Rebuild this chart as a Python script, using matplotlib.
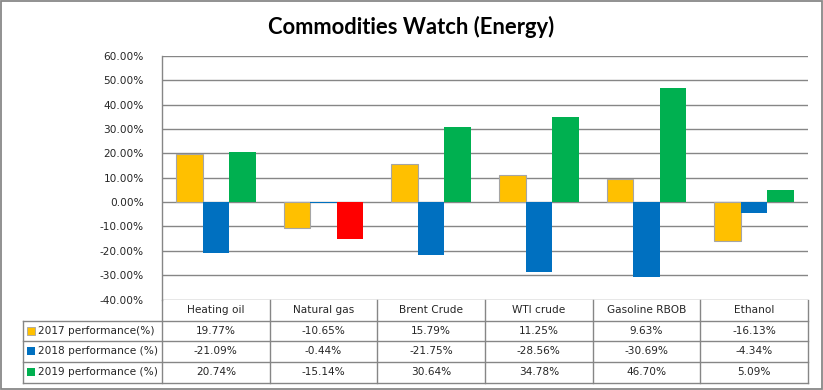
import matplotlib
matplotlib.use("Agg")
import matplotlib.pyplot as plt
import matplotlib.transforms as mtransforms
from matplotlib.lines import Line2D
from matplotlib.patches import Rectangle
import numpy as np

# data
commodities = ["Heating oil", "Natural gas", "Brent Crude", "WTI crude", "Gasoline RBOB", "Ethanol"]
series_names = ["2017 performance(%)", "2018 performance (%)", "2019 performance (%)"]
perf_2017 = [19.77, -10.65, 15.79, 11.25, 9.63, -16.13]
perf_2018 = [-21.09, -0.44, -21.75, -28.56, -30.69, -4.34]
perf_2019 = [20.74, -15.14, 30.64, 34.78, 46.70, 5.09]
y_ticks = [-40, -30, -20, -10, 0, 10, 20, 30, 40, 50, 60]

W, H = 823, 390
GRID = "#868686"
TEXT = "#262626"
FONT = "DejaVu Sans"
FS = 7.6

def fx(px):
    return px / W

def fy(py):
    return 1 - py / H

fig = plt.figure(figsize=(W / 100, H / 100), dpi=100)
fig.patch.set_facecolor("white")

# plot area
ax = fig.add_axes([fx(162), fy(299.5), fx(808) - fx(162), (299.5 - 56) / H])
x = np.arange(len(commodities))
bw = 0.247

c2019 = ["#FF0000" if v < 0 else "#00B050" for v in perf_2019]
ax.bar(x - bw, perf_2017, bw, color="#FFC000", edgecolor="#A5A5A5", linewidth=0.8, zorder=3)
ax.bar(x, perf_2018, bw, color="#0070C0", linewidth=0, zorder=3)
ax.bar(x + bw, perf_2019, bw, color=c2019, linewidth=0, zorder=3)

ax.set_xlim(-0.5, len(commodities) - 0.5)
ax.set_ylim(min(y_ticks), max(y_ticks))
ax.set_yticks(y_ticks)
ax.set_yticklabels([f"{v:.2f}%" for v in y_ticks], fontsize=FS, color=TEXT, family=FONT)
ax.set_xticks([])
ax.tick_params(axis="y", length=0, pad=13)
ax.grid(axis="y", color=GRID, linewidth=1, zorder=0)
for side in ["top", "right", "bottom"]:
    ax.spines[side].set_visible(False)
ax.spines["left"].set_color(GRID)
ax.spines["left"].set_linewidth(1)

# data table below the plot
row_edges = [299.5, 320.5, 341, 361.7, 382.5]
bt = mtransforms.blended_transform_factory(ax.transData, fig.transFigure)
x_edges = np.arange(len(commodities) + 1) - 0.5

for xe in x_edges:
    fig.add_artist(Line2D([xe, xe], [fy(row_edges[0]), fy(row_edges[-1])],
                          transform=bt, color=GRID, linewidth=1))
for ye in row_edges[1:]:
    fig.add_artist(Line2D([fx(23), fx(808)], [fy(ye), fy(ye)],
                          transform=fig.transFigure, color=GRID, linewidth=1))
fig.add_artist(Line2D([fx(23), fx(23)], [fy(row_edges[1]), fy(row_edges[-1])],
                      transform=fig.transFigure, color=GRID, linewidth=1))

head_y = fy((row_edges[0] + row_edges[1]) / 2)
for i, name in enumerate(commodities):
    fig.text(i, head_y, name, transform=bt, ha="center", va="center",
             fontsize=FS, color=TEXT, family=FONT)

series = [perf_2017, perf_2018, perf_2019]
colors = ["#FFC000", "#0070C0", "#00B050"]
edges = ["#A5A5A5", "none", "none"]
for r, (label, vals) in enumerate(zip(series_names, series)):
    yc = (row_edges[r + 1] + row_edges[r + 2]) / 2
    fig.add_artist(Rectangle((fx(27), fy(yc + 4)), 8 / W, 8 / H, transform=fig.transFigure,
                             facecolor=colors[r], edgecolor=edges[r], linewidth=0.6))
    fig.text(fx(38.5), fy(yc), label, ha="left", va="center",
             fontsize=FS, color=TEXT, family=FONT)
    for i, v in enumerate(vals):
        fig.text(i, fy(yc), f"{v:.2f}%", transform=bt, ha="center", va="center",
                 fontsize=FS, color=TEXT, family=FONT)

# title
fig.text(fx(411.5), fy(27), "Commodities Watch (Energy)", ha="center", va="center",
         fontsize=15.8, fontweight="bold", family="Lato", color="black")

# outer frame
fig.add_artist(Rectangle((fx(1.2), fy(388.8)), (821.6 - 1.2) / W, (388.8 - 1.2) / H,
                         transform=fig.transFigure, facecolor="none",
                         edgecolor="#888888", linewidth=1.3))

fig.savefig("out.png", dpi=100)
